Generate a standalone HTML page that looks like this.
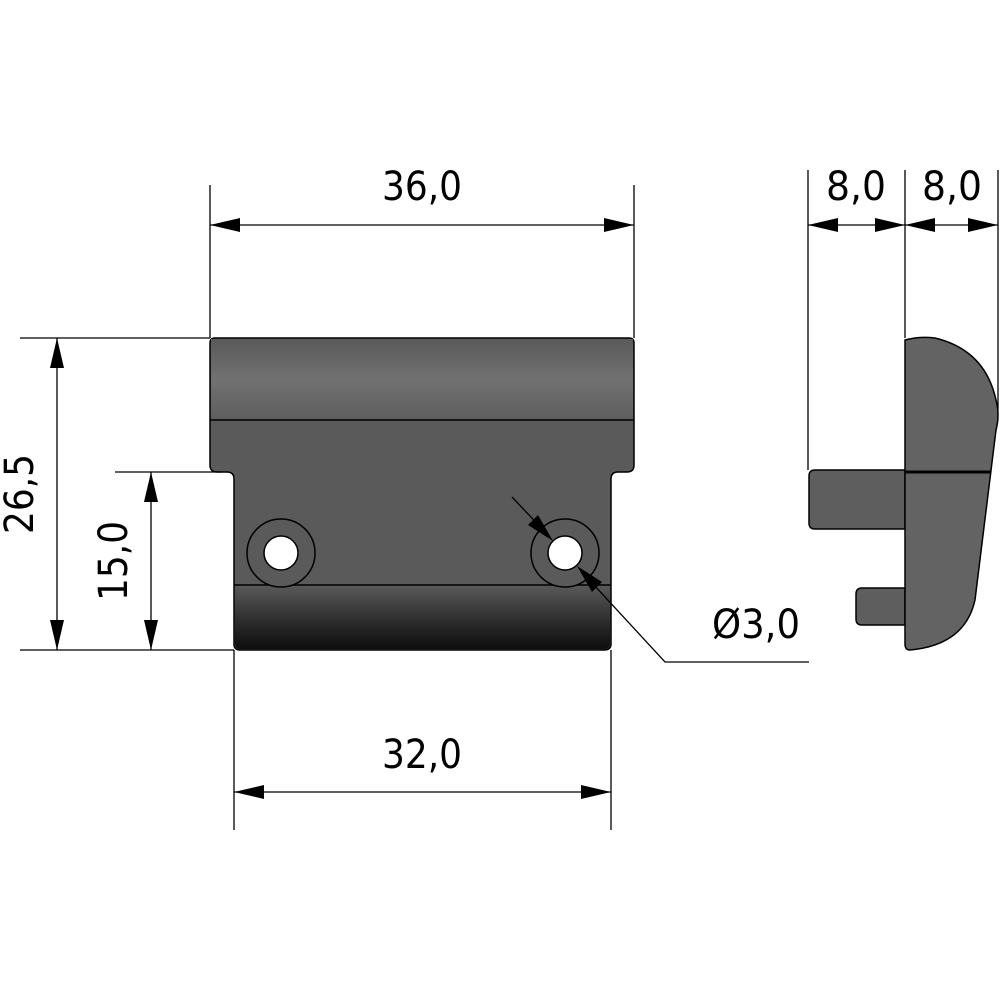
<!DOCTYPE html>
<html><head><meta charset="utf-8"><style>html,body{margin:0;padding:0;background:#fff}svg{display:block}</style></head>
<body>
<svg width="1000" height="1000" viewBox="0 0 1000 1000" xmlns="http://www.w3.org/2000/svg" font-family="DejaVu Sans, Liberation Sans, sans-serif" font-size="40">
<defs>
<linearGradient id="gt" x1="0" y1="0" x2="0" y2="1">
<stop offset="0" stop-color="#5a5a5a"/><stop offset="0.5" stop-color="#717171"/><stop offset="1" stop-color="#5e5e5e"/></linearGradient>
<linearGradient id="gb" x1="0" y1="0" x2="0" y2="1">
<stop offset="0" stop-color="#5a5a5a"/><stop offset="0.6" stop-color="#2a2a2a"/><stop offset="1" stop-color="#0e0e0e"/></linearGradient>
</defs>
<g stroke="#000" stroke-width="1.5">
<!-- front body -->
<path d="M215 338 H629 Q634 338 634 343 V465 Q634 472 627 472 H618 Q611 472 611 479 V644 Q611 650 604 650 H240 Q234 650 234 644 V479 Q234 472 227 472 H217 Q210 472 210 465 V343 Q210 338 215 338 Z" fill="#5a5a5a"/>
<rect x="211" y="339" width="422" height="81" fill="url(#gt)" stroke="none"/>
<path d="M235 585 H610 V644 Q610 649 604 649 H240 Q235 649 235 644 Z" fill="url(#gb)" stroke="none"/>
<line x1="210" y1="420" x2="634" y2="420"/>
<line x1="234" y1="585" x2="611" y2="585"/>
<circle cx="281" cy="553" r="34" fill="#5a5a5a"/>
<circle cx="281" cy="553" r="17" fill="#fff"/>
<circle cx="565" cy="553" r="34" fill="#5a5a5a"/>
<circle cx="565" cy="553" r="17" fill="#fff"/>
<!-- side view -->
<path d="M815 470 H905 V529 H815 Q809 529 809 523 V476 Q809 470 815 470 Z" fill="#5e5e5e"/>
<path d="M862 588 H905 V625 H862 Q856 625 856 619 V594 Q856 588 862 588 Z" fill="#5e5e5e"/>
<path d="M905 340 Q920 336 935 338 Q985 350 996 400 Q1000 415 996 430 L975 600 Q965 645 910 650 Q905 650 905 644 Z" fill="#636363"/>
<line x1="905" y1="472" x2="991" y2="472" stroke-width="3"/>
</g>
<g stroke="#000" stroke-width="1.3" fill="none">
<!-- extension lines -->
<line x1="210" y1="185" x2="210" y2="338"/>
<line x1="634" y1="185" x2="634" y2="338"/>
<line x1="808" y1="170" x2="808" y2="470"/>
<line x1="905" y1="170" x2="905" y2="338"/>
<line x1="998" y1="170" x2="998" y2="410"/>
<line x1="20" y1="338" x2="210" y2="338"/>
<line x1="20" y1="650" x2="234" y2="650"/>
<line x1="115" y1="472" x2="222" y2="472"/>
<line x1="234" y1="650" x2="234" y2="830"/>
<line x1="611" y1="650" x2="611" y2="830"/>
<!-- dim lines -->
<line x1="210" y1="225" x2="634" y2="225"/>
<line x1="808" y1="225" x2="998" y2="225"/>
<line x1="57" y1="338" x2="57" y2="650"/>
<line x1="151" y1="472" x2="151" y2="650"/>
<line x1="234" y1="792" x2="611" y2="792"/>
<polyline points="512,497 548,535"/>
<polyline points="582,572 665,662 809,662"/>
</g>
<g fill="#000">
<polygon points="210,225 240,218 240,232"/><polygon points="634,225 604,218 604,232"/>
<polygon points="808,225 838,218 838,232"/><polygon points="905,225 875,218 875,232"/>
<polygon points="905,225 935,218 935,232"/><polygon points="998,225 968,218 968,232"/>
<polygon points="57,338 50,368 64,368"/><polygon points="57,650 50,620 64,620"/>
<polygon points="151,472 144,502 158,502"/><polygon points="151,650 144,620 158,620"/>
<polygon points="234,792 264,785 264,799"/><polygon points="611,792 581,785 581,799"/>
<polygon points="553,541 528,525 538,515"/>
<polygon points="577,566 602,582 592,592"/>
</g>
<g fill="#000">
<text x="422" y="200" text-anchor="middle" textLength="80" lengthAdjust="spacingAndGlyphs">36,0</text>
<text x="856" y="200" text-anchor="middle" textLength="60" lengthAdjust="spacingAndGlyphs">8,0</text>
<text x="952" y="200" text-anchor="middle" textLength="60" lengthAdjust="spacingAndGlyphs">8,0</text>
<text x="422" y="768" text-anchor="middle" textLength="80" lengthAdjust="spacingAndGlyphs">32,0</text>
<text x="712" y="638" textLength="88" lengthAdjust="spacingAndGlyphs">Ø3,0</text>
<text transform="translate(33,494) rotate(-90)" text-anchor="middle" textLength="80" lengthAdjust="spacingAndGlyphs">26,5</text>
<text transform="translate(127,561) rotate(-90)" text-anchor="middle" textLength="80" lengthAdjust="spacingAndGlyphs">15,0</text>
</g>
</svg>
</body></html>
